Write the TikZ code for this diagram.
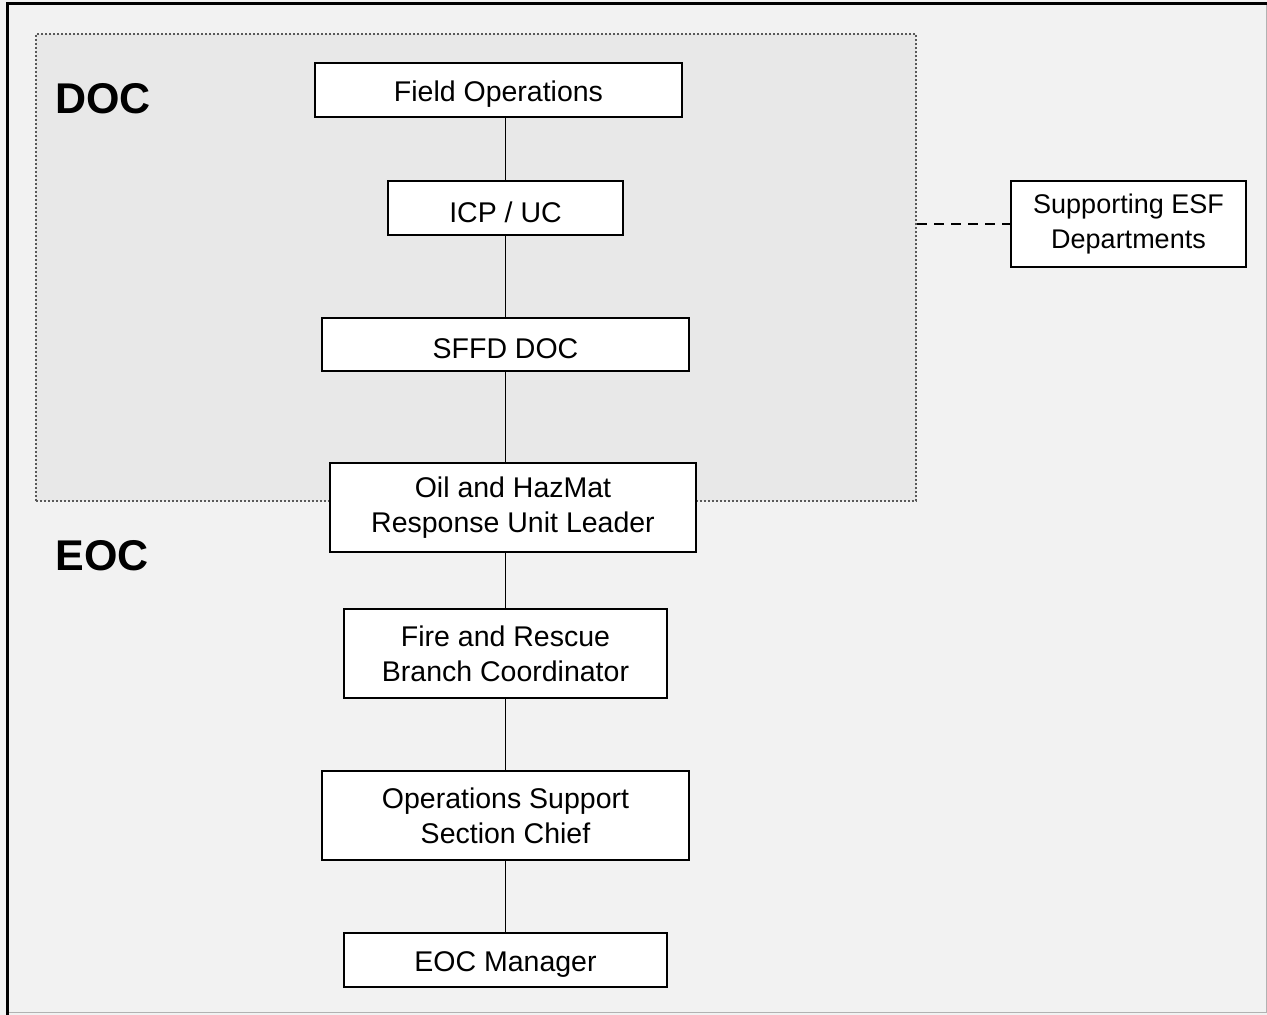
\documentclass[tikz,border=0pt]{standalone}
\usepackage{fontspec}
\setmainfont{Liberation Sans}
\tikzset{
  unitdbl/.style={draw, line width=1.8pt, fill=white, align=center, inner sep=0pt,
    font=\fontsize{28.5}{35}\selectfont},
  unit/.style={unitdbl, text height=29pt},
  link/.style={line width=1.9pt},
  area/.style={font=\fontsize{43}{50}\selectfont\bfseries},
}
\begin{document}
\begin{tikzpicture}[x=1pt,y=-1pt]
\useasboundingbox (0,0) rectangle (1267,1015);
\fill[black!5] (0,0) rectangle (1267,1015);
\draw[black!30, line width=1pt] (1266,3) -- (1266,1012) -- (7,1012);
\draw[line width=3pt] (7,1015) -- (7,3) -- (1267,3);
% DOC area
\node[draw=black!65, fill=black!9, dotted, line width=2pt, minimum width=880pt, minimum height=467pt] (doc) at (476,267.5) {};
\node[area] (doclabel) at (103,99) {DOC};
\node[area] (eoclabel) at (102,556) {EOC};
% chain of units
\node[unit, minimum width=367pt, minimum height=54pt] (fo) at (498.5,90) {Field Operations};
\node[unit, minimum width=235pt, minimum height=54pt] (icp) at (505.5,208) {ICP / UC};
\node[unit, minimum width=367pt, minimum height=53pt] (sffd) at (505.5,344.5) {SFFD DOC};
\node[unitdbl, minimum width=366pt, minimum height=89pt] (oil) at (513,507.5) {Oil and HazMat\\Response Unit Leader};
\node[unitdbl, minimum width=323pt, minimum height=89pt] (fire) at (505.5,653.5) {Fire and Rescue\\Branch Coordinator};
\node[unitdbl, minimum width=367pt, minimum height=89pt] (ops) at (505.5,815.5) {Operations Support\\Section Chief};
\node[unit, minimum width=323pt, minimum height=54pt] (mgr) at (505.5,960) {EOC Manager};
\node[unitdbl, minimum width=235pt, minimum height=86pt, font=\fontsize{27}{35}\selectfont] (esf) at (1128.5,224) {Supporting ESF\\Departments};
% connectors
\draw[link] (fo.south -| icp) -- (icp.north);
\draw[link] (icp.south) -- (sffd.north);
\draw[link] (sffd.south) -- (sffd.south |- oil.north);
\draw[link] (fire.north |- oil.south) -- (fire.north);
\draw[link] (fire.south) -- (ops.north);
\draw[link] (ops.south) -- (mgr.north);
\draw[link, dash pattern=on 10pt off 7pt] (doc.east |- esf.west) -- (esf.west);
\end{tikzpicture}
\end{document}
